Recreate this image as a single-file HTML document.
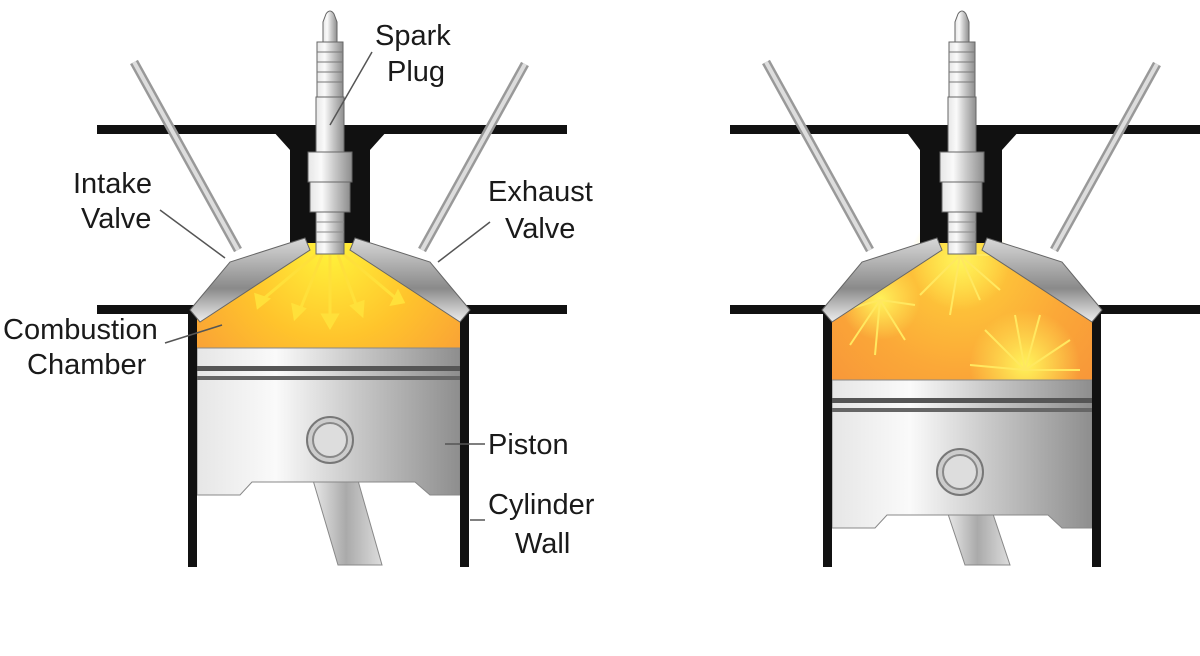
<!DOCTYPE html>
<html><head><style>
body{margin:0;background:#fff}
svg text{font-family:"Liberation Sans",sans-serif;font-size:29px;fill:#1a1a1a}
</style></head><body>
<svg width="1200" height="651" viewBox="0 0 1200 651" xmlns="http://www.w3.org/2000/svg">
<defs>
<radialGradient id="fire" cx="330" cy="250" r="200" gradientUnits="userSpaceOnUse">
<stop offset="0" stop-color="#fff23a"/><stop offset="0.45" stop-color="#ffc42c"/><stop offset="1" stop-color="#f7923a"/></radialGradient>
<radialGradient id="fire2" cx="960" cy="260" r="220" gradientUnits="userSpaceOnUse">
<stop offset="0" stop-color="#ffd43a"/><stop offset="0.5" stop-color="#fba838"/><stop offset="1" stop-color="#f58c3a"/></radialGradient>
<radialGradient id="burst" r="0.5"><stop offset="0" stop-color="#fff35a"/><stop offset="1" stop-color="#fff35a" stop-opacity="0"/></radialGradient>
<linearGradient id="metal" x1="0" x2="1"><stop offset="0" stop-color="#e6e6e6"/><stop offset="0.3" stop-color="#fafafa"/><stop offset="0.6" stop-color="#c9c9c9"/><stop offset="1" stop-color="#8e8e8e"/></linearGradient>
<linearGradient id="valve" x1="0" y1="0" x2="0" y2="1"><stop offset="0" stop-color="#d8d8d8"/><stop offset="0.6" stop-color="#8a8a8a"/><stop offset="1" stop-color="#eeeeee"/></linearGradient>
<linearGradient id="rod" x1="0" x2="1"><stop offset="0" stop-color="#eee"/><stop offset="0.5" stop-color="#aaa"/><stop offset="1" stop-color="#ddd"/></linearGradient>
<g id="plug">
<path d="M-4 -8 Q0 -14 4 -8 L7 0 L7 22 L-7 22 L-7 0Z" fill="url(#metal)" stroke="#666"/>
<rect x="-13" y="20" width="26" height="55" fill="url(#metal)" stroke="#666"/>
<path d="M-13 30h26M-13 40h26M-13 50h26M-13 60h26" stroke="#777"/>
<rect x="-14" y="75" width="28" height="55" fill="url(#metal)" stroke="#666"/>
<rect x="-22" y="130" width="44" height="30" fill="url(#metal)" stroke="#666"/>
<rect x="-20" y="160" width="40" height="30" fill="url(#metal)" stroke="#666"/>
<rect x="-14" y="190" width="28" height="42" fill="url(#metal)" stroke="#666"/>
<path d="M-14 200h28M-14 210h28M-14 220h28" stroke="#888"/>
</g>
</defs>

<!-- LEFT -->
<g>
<polygon points="197,312 300,242 360,242 460,312 460,350 197,350" fill="url(#fire)"/>
<g stroke="#ffe03a" stroke-width="3" fill="#ffe03a">
<path d="M330 255 L330 318M322 255L300 310M338 255L358 310M318 253L262 300M342 253L398 300"/>
<path d="M323 315l7 12 7-12zM293 305l2 13 9-9zM352 306l10 9 1-13zM256 295l2 12 10-8zM392 304l11-2-5-10z"/>
</g>
<polygon points="310,470 355,470 382,565 338,565" fill="url(#rod)" stroke="#888"/>
<polygon points="197,348 460,348 460,495 430,495 415,482 252,482 240,495 197,495" fill="url(#metal)" stroke="#888"/>
<rect x="197" y="366" width="263" height="5" fill="#555"/>
<rect x="197" y="376" width="263" height="4" fill="#666"/>
<circle cx="330" cy="440" r="23" fill="#ccc" stroke="#777" stroke-width="2"/>
<circle cx="330" cy="440" r="17" fill="#ddd" stroke="#888" stroke-width="2"/>
<rect x="97" y="125" width="470" height="9" fill="#111"/>
<polygon points="272,130 388,130 370,150 370,243 290,243 290,150" fill="#111"/>
<rect x="97" y="305" width="95" height="9" fill="#111"/>
<rect x="464" y="305" width="103" height="9" fill="#111"/>
<rect x="188" y="305" width="9" height="262" fill="#111"/>
<rect x="460" y="305" width="9" height="262" fill="#111"/>
<line x1="134" y1="62" x2="238" y2="250" stroke="#999" stroke-width="9"/>
<line x1="134" y1="62" x2="238" y2="250" stroke="#ddd" stroke-width="4"/>
<line x1="525" y1="64" x2="422" y2="250" stroke="#999" stroke-width="9"/>
<line x1="525" y1="64" x2="422" y2="250" stroke="#ddd" stroke-width="4"/>
<polygon points="190,310 230,262 305,238 310,250 200,322" fill="url(#valve)" stroke="#666"/>
<polygon points="470,310 430,262 355,238 350,250 460,322" fill="url(#valve)" stroke="#666"/>
<use href="#plug" x="330" y="22"/>
<g stroke="#555" stroke-width="1.5" fill="none">
<path d="M372 52 L330 125"/><path d="M160 210 L225 258"/><path d="M490 222 L438 262"/>
<path d="M165 343 L222 325"/><path d="M445 444 L485 444"/><path d="M470 520 L485 520"/>
</g>
<text x="375" y="45">Spark</text><text x="387" y="81">Plug</text>
<text x="73" y="193">Intake</text><text x="81" y="228">Valve</text>
<text x="488" y="201">Exhaust</text><text x="505" y="238">Valve</text>
<text x="3" y="339">Combustion</text><text x="27" y="374">Chamber</text>
<text x="488" y="454">Piston</text>
<text x="488" y="514">Cylinder</text><text x="515" y="553">Wall</text>
</g>

<!-- RIGHT -->
<g>
<polygon points="832,312 930,242 990,242 1092,312 1092,382 832,382" fill="url(#fire2)"/>
<circle cx="880" cy="300" r="40" fill="url(#burst)"/>
<circle cx="1025" cy="365" r="55" fill="url(#burst)"/>
<circle cx="960" cy="260" r="50" fill="url(#burst)"/>
<g stroke="#ffe860" stroke-width="2">
<path d="M880 300l-30 45M880 300l-5 55M880 300l25 40M880 300l35 5M880 300l-35 10M960 255l-40 40M960 255l-10 60M960 255l20 45M960 255l40 35M960 255l60 0M1025 370l-55-5M1025 370l-40-40M1025 370l-10-55M1025 370l15-55M1025 370l45-30M1025 370l55 0"/>
</g>
<polygon points="945,505 990,505 1010,565 965,565" fill="url(#rod)" stroke="#888"/>
<polygon points="832,380 1092,380 1092,528 1062,528 1048,515 887,515 875,528 832,528" fill="url(#metal)" stroke="#888"/>
<rect x="832" y="398" width="260" height="5" fill="#555"/>
<rect x="832" y="408" width="260" height="4" fill="#666"/>
<circle cx="960" cy="472" r="23" fill="#ccc" stroke="#777" stroke-width="2"/>
<circle cx="960" cy="472" r="17" fill="#ddd" stroke="#888" stroke-width="2"/>
<rect x="730" y="125" width="470" height="9" fill="#111"/>
<polygon points="905,130 1020,130 1002,150 1002,243 920,243 920,150" fill="#111"/>
<rect x="730" y="305" width="95" height="9" fill="#111"/>
<rect x="1097" y="305" width="103" height="9" fill="#111"/>
<rect x="823" y="305" width="9" height="262" fill="#111"/>
<rect x="1092" y="305" width="9" height="262" fill="#111"/>
<line x1="766" y1="62" x2="870" y2="250" stroke="#999" stroke-width="9"/>
<line x1="766" y1="62" x2="870" y2="250" stroke="#ddd" stroke-width="4"/>
<line x1="1157" y1="64" x2="1054" y2="250" stroke="#999" stroke-width="9"/>
<line x1="1157" y1="64" x2="1054" y2="250" stroke="#ddd" stroke-width="4"/>
<polygon points="822,310 862,262 937,238 942,250 832,322" fill="url(#valve)" stroke="#666"/>
<polygon points="1102,310 1062,262 987,238 982,250 1092,322" fill="url(#valve)" stroke="#666"/>
<use href="#plug" x="962" y="22"/>
</g>
</svg>
</body></html>
